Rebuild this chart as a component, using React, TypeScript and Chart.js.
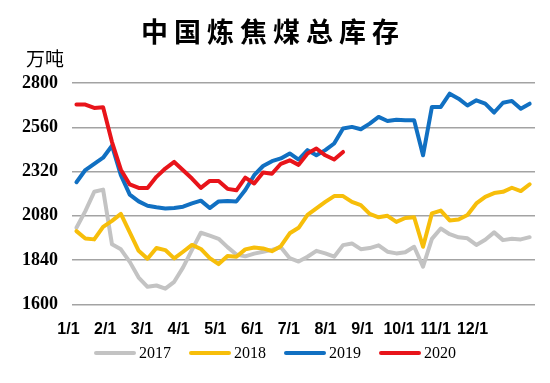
import React, { useEffect, useRef } from "react";
import { Chart, registerables } from "chart.js";

Chart.register(...registerables);

const titleText = "中国炼焦煤总库存";
const unitText = "万吨";
const monthLabels = ["1/1", "2/1", "3/1", "4/1", "5/1", "6/1", "7/1", "8/1", "9/1", "10/1", "11/1", "12/1"];
const seriesNames = ["2017", "2018", "2019", "2020"];
const seriesColors = ["#c3c3c3", "#f7be0a", "#1170c2", "#e8141a"];

const data2017 = [2015, 2105, 2210, 2222, 1925, 1898, 1830, 1745, 1695, 1702, 1685, 1722, 1800, 1895, 1988, 1972, 1955, 1910, 1870, 1860, 1875, 1885, 1895, 1910, 1850, 1832, 1858, 1890, 1876, 1858, 1921, 1930, 1899, 1905, 1920, 1885, 1876, 1882, 1912, 1804, 1955, 2011, 1980, 1963, 1958, 1922, 1950, 1990, 1948, 1955, 1952, 1964];
const data2018 = [1997, 1957, 1952, 2020, 2052, 2090, 1990, 1890, 1847, 1905, 1894, 1849, 1885, 1922, 1900, 1850, 1818, 1862, 1858, 1898, 1908, 1903, 1888, 1915, 1985, 2015, 2085, 2120, 2155, 2187, 2187, 2155, 2138, 2090, 2072, 2080, 2047, 2068, 2072, 1912, 2093, 2108, 2055, 2060, 2084, 2147, 2183, 2203, 2210, 2232, 2214, 2251];
const data2019 = [2262, 2328, 2362, 2395, 2460, 2300, 2195, 2158, 2134, 2126, 2120, 2122, 2129, 2147, 2162, 2122, 2158, 2160, 2158, 2220, 2300, 2350, 2376, 2391, 2418, 2385, 2436, 2408, 2436, 2472, 2553, 2562, 2549, 2580, 2616, 2594, 2601, 2598, 2598, 2408, 2670, 2670, 2742, 2715, 2678, 2706, 2688, 2640, 2693, 2703, 2661, 2688];
const data2020 = [2683, 2683, 2665, 2668, 2480, 2330, 2250, 2231, 2231, 2291, 2336, 2372, 2327, 2282, 2231, 2269, 2269, 2226, 2218, 2287, 2255, 2315, 2308, 2362, 2381, 2356, 2418, 2445, 2408, 2385, 2426];

const yMin = 1600;
const yMax = 2800;
const yStep = 240;

const headerPlugin = {
  id: "headerText",
  afterDraw(chart: any) {
    const ctx = chart.ctx as CanvasRenderingContext2D;
    ctx.save();
    ctx.fillStyle = "#000";
    ctx.textBaseline = "middle";
    ctx.textAlign = "left";
    ctx.font = 'bold 27px "Noto Sans CJK SC"';
    const ls = 6;
    (ctx as any).letterSpacing = ls + "px";
    const w = ctx.measureText(titleText).width - ls;
    ctx.fillText(titleText, chart.width / 2 - 5 - w / 2, 32);
    (ctx as any).letterSpacing = "0px";
    ctx.font = '19px "Noto Sans CJK SC"';
    ctx.fillText(unitText, 26, 59);
    ctx.restore();
  },
};

export default function App() {
  const ref = useRef<HTMLCanvasElement | null>(null);
  useEffect(() => {
    document.body.style.margin = "0";
    const all = [data2017, data2018, data2019, data2020];
    const chart = new Chart(ref.current as HTMLCanvasElement, {
      type: "line",
      data: {
        datasets: all.map((arr, k) => ({
          label: seriesNames[k],
          data: arr.map((v, i) => ({ x: i, y: v })),
          borderColor: seriesColors[k],
          backgroundColor: seriesColors[k],
          borderWidth: 4,
          pointRadius: 0,
          tension: 0,
          borderJoinStyle: "round" as const,
          borderCapStyle: "round" as const,
          order: 4 - k,
        })),
      },
      options: {
        animation: false,
        responsive: false,
        devicePixelRatio: 1,
        layout: { padding: { left: 8, right: 15, top: 83, bottom: 27.3 } },
        scales: {
          x: {
            type: "linear",
            min: -0.5,
            max: 51.6,
            grid: { display: false, drawTicks: false },
            border: { display: false },
            afterBuildTicks: (axis: any) => {
              axis.ticks = monthLabels.map((_, k) => ({ value: -0.9 + 4.133 * k }));
            },
            ticks: {
              autoSkip: false,
              maxRotation: 0,
              padding: 16.1,
              color: "#000",
              font: { family: '"Liberation Sans"', size: 16, weight: "bold", lineHeight: 1.2 },
              callback: (_v: any, i: number) => monthLabels[i] ?? "",
            },
          },
          y: {
            min: yMin,
            max: yMax,
            grid: { color: "#a3a3a3", lineWidth: 1.5, drawTicks: false },
            border: { display: false },
            ticks: {
              stepSize: yStep,
              padding: 14,
              color: "#000",
              font: { family: '"Liberation Serif"', size: 18, weight: "bold" },
              callback: (v: any) => String(v),
            },
          },
        },
        plugins: {
          title: { display: false },
          tooltip: { enabled: false },
          legend: { display: false },
        },
      },
      plugins: [headerPlugin],
    } as any);
    return () => chart.destroy();
  }, []);
  return (
    <div style={{ position: "relative", width: 550, height: 383 }}>
      <canvas ref={ref} width={550} height={383} style={{ display: "block" }} />
      <div
        style={{
          position: "absolute",
          left: 0,
          top: 344,
          width: 550,
          height: 18,
          display: "flex",
          justifyContent: "center",
          alignItems: "center",
          gap: 18,
          fontFamily: '"Liberation Serif"',
          fontSize: 16,
          color: "#000",
          lineHeight: "18px",
        }}
      >
        {seriesNames.map((name, k) => (
          <div key={name} style={{ display: "flex", alignItems: "center" }}>
            <span
              style={{
                display: "inline-block",
                width: 42,
                height: 4,
                borderRadius: 2,
                background: seriesColors[k],
                marginRight: 3,
              }}
            />
            <span>{name}</span>
          </div>
        ))}
      </div>
    </div>
  );
}
